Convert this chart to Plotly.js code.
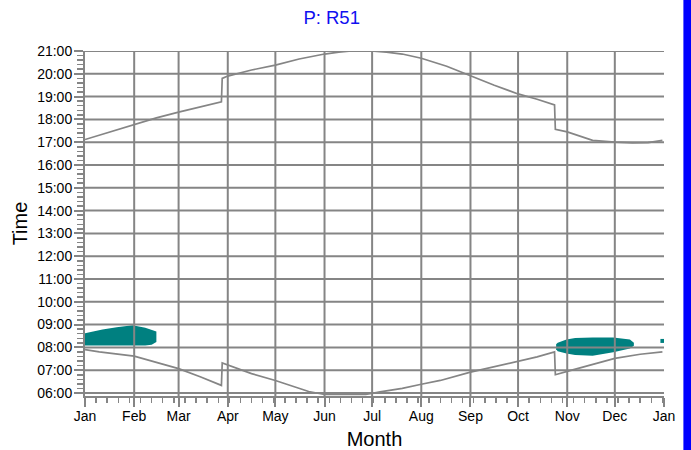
<!DOCTYPE html>
<html>
<head>
<meta charset="utf-8">
<script src="https://cdn.plot.ly/plotly-3.0.1.min.js"></script>
<style>html,body{margin:0;padding:0;background:#fff;}#chart{width:691px;height:450px;}</style>
</head>
<body>
<div id="chart"></div>
<script>
// Month ticks (day offset from Jan 1)
const monthDays = [0, 31, 59, 90, 120, 151, 181, 212, 243, 273, 304, 334, 365];
const monthLabels = ["Jan","Feb","Mar","Apr","May","Jun","Jul","Aug","Sep","Oct","Nov","Dec","Jan"];
const hourTicks = [6,7,8,9,10,11,12,13,14,15,16,17,18,19,20,21];
const hourLabels = ["06:00","07:00","08:00","09:00","10:00","11:00","12:00","13:00","14:00","15:00","16:00","17:00","18:00","19:00","20:00","21:00"];

// Sunset line
const sunsetDays  = [0, 15, 31, 45, 59, 73, 86, 86.5, 90, 105, 120, 135, 151, 160, 168, 180, 190, 200, 212, 228, 243, 258, 273, 285, 296, 296.5, 304, 312, 320, 334, 345, 355, 364];
const sunsetTimes = ["17:07","17:26","17:45","18:04","18:19","18:32","18:46","19:48","19:54","20:10","20:23","20:39","20:52","20:57","21:00","21:00","20:57","20:52","20:41","20:20","19:54","19:30","19:07","18:53","18:38","17:34","17:27","17:16","17:05","17:00","16:58","16:59","17:05"];

// Sunrise line
const sunriseDays  = [0, 9, 31, 45, 59, 73, 86, 86.5, 90, 105, 120, 141, 151, 177, 186, 200, 212, 224, 243, 258, 273, 285, 296, 296.5, 304, 320, 334, 350, 364];
const sunriseTimes = ["07:54","07:48","07:37","07:21","07:04","06:42","06:20","07:19","07:14","06:51","06:33","06:04","05:56","05:56","06:03","06:12","06:23","06:33","06:55","07:09","07:23","07:35","07:48","06:48","06:57","07:15","07:31","07:42","07:48"];

// Shadow period, Jan-Feb
const shadowA_days  = [0, 11, 20, 30, 38, 42, 45];
const shadowA_start = ["08:05","08:05","08:05","08:05","08:05","08:07","08:14"];
const shadowA_end   = ["08:37","08:47","08:53","08:58","08:52","08:47","08:42"];

// Shadow period, Oct-Dec
const shadowB_days  = [297, 298, 303.5, 309, 320, 333, 343.5, 346];
const shadowB_start = ["07:55","07:50","07:44","07:40","07:38","07:47","07:57","08:04"];
const shadowB_end   = ["08:08","08:12","08:21","08:25","08:26","08:26","08:21","08:12"];

// Single shadow point at year end
const shadowC_days = [364];
const shadowC_time = ["08:17"];

function toH(s){ const p = s.split(":"); return (+p[0]) + (+p[1])/60; }
const H = a => a.map(toH);

const gray = "#858585";
const teal = "#008080";

const traces = [
  {x: shadowA_days, y: H(shadowA_start), mode:"lines", line:{width:0, color:teal}, hoverinfo:"skip", showlegend:false},
  {x: shadowA_days, y: H(shadowA_end), mode:"lines", fill:"tonexty", fillcolor:teal, line:{width:0, color:teal}, showlegend:false},
  {x: shadowB_days, y: H(shadowB_start), mode:"lines", line:{width:0, color:teal}, hoverinfo:"skip", showlegend:false},
  {x: shadowB_days, y: H(shadowB_end), mode:"lines", fill:"tonexty", fillcolor:teal, line:{width:0, color:teal}, showlegend:false},
  {x: shadowC_days, y: H(shadowC_time), mode:"markers", marker:{symbol:"square", size:4, color:teal}, showlegend:false},
  {x: sunsetDays, y: H(sunsetTimes), mode:"lines", line:{color:gray, width:1.7}, showlegend:false},
  {x: sunriseDays, y: H(sunriseTimes), mode:"lines", line:{color:gray, width:1.7}, showlegend:false}
];

// Grid drawn above the shadow fill, from the tick arrays
const shapes = [];
monthDays.slice(1, monthDays.length - 1).forEach(d => shapes.push({type:"line", xref:"x", yref:"paper", x0:d, x1:d, y0:0, y1:1, line:{color:gray, width:2}, layer:"above"}));
hourTicks.forEach(h => shapes.push({type:"line", xref:"paper", yref:"y", x0:0, x1:1, y0:h, y1:h, line:{color:gray, width:2}, layer:"above"}));
// blue bar at the right edge
shapes.push({type:"rect", xref:"paper", yref:"paper", x0:1.0335, x1:1.06, y0:-0.2, y1:1.2, fillcolor:"#0000ff", line:{width:0}, layer:"above"});

const font = "Liberation Sans, Arial, sans-serif";
const layout = {
  width: 691, height: 450,
  margin: {l:85, r:27, t:51, b:54},
  paper_bgcolor: "#fff", plot_bgcolor: "#fff",
  showlegend: false,
  title: {text:"P: R51", font:{family:font, size:18.5, color:"#1010f0"}, x:0.48, xref:"container", xanchor:"center", y:0.96, yref:"container", yanchor:"middle"},
  xaxis: {
    range:[0,365], tickmode:"array", tickvals:monthDays, ticktext:monthLabels,
    showgrid:false, zeroline:false, showline:true, linecolor:gray, linewidth:2,
    ticks:"outside", ticklen:9, tickwidth:2, tickcolor:gray,
    minor:{tick0:0, dtick:7, ticks:"outside", ticklen:5, tickwidth:1.5, tickcolor:gray, showgrid:false},
    ticklabelstandoff:-3,
    tickfont:{family:font, size:14, color:"#000"},
    title:{text:"Month", font:{family:font, size:20, color:"#000"}, standoff:10}
  },
  yaxis: {
    range:[5.868,21], tickmode:"array", tickvals:hourTicks, ticktext:hourLabels,
    showgrid:false, zeroline:false, showline:true, linecolor:gray, linewidth:2,
    ticks:"outside", ticklen:9, tickwidth:2, tickcolor:gray,
    minor:{tick0:6, dtick:0.2, ticks:"outside", ticklen:6, tickwidth:1.5, tickcolor:gray, showgrid:false},
    ticklabelstandoff:-1,
    tickfont:{family:font, size:14, color:"#000"},
    title:{text:"Time", font:{family:font, size:20, color:"#000"}, standoff:4}
  },
  shapes: shapes
};

Plotly.newPlot("chart", traces, layout, {staticPlot:true, displayModeBar:false});
</script>
</body>
</html>
